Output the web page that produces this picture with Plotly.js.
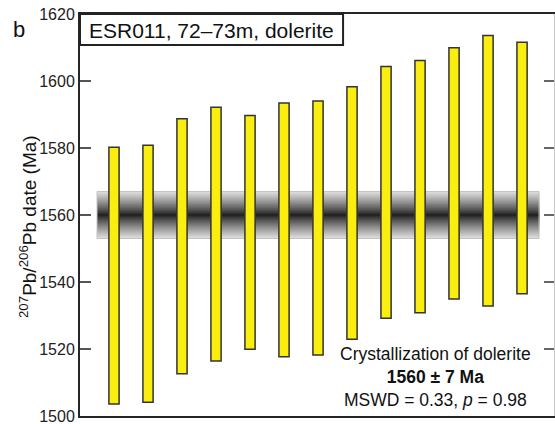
<!DOCTYPE html>
<html>
<head>
<meta charset="utf-8">
<script src="https://cdn.plot.ly/plotly-3.0.1.min.js"></script>
<style>
  html, body { margin: 0; padding: 0; background: #fff; }
  #chart { width: 555px; height: 424px; }
</style>
</head>
<body>
<div id="chart"></div>
<script>
// Individual zircon 207Pb/206Pb dates (Ma), 2-sigma upper and lower limits
const analysis = [1, 2, 3, 4, 5, 6, 7, 8, 9, 10, 11, 12, 13];
const dateUpper = [1580.2, 1580.8, 1588.7, 1592.2, 1589.7, 1593.4, 1594.0, 1598.3, 1604.3, 1606.1, 1609.9, 1613.6, 1611.6];
const dateLower = [1503.6, 1504.1, 1512.6, 1516.4, 1519.9, 1517.7, 1518.2, 1522.9, 1529.2, 1530.8, 1534.9, 1532.8, 1536.5];

// Weighted mean result
const meanAge = 1560;
const meanErr = 7;
const mswd = 0.33;
const pValue = 0.98;

const yTicks = [1500, 1520, 1540, 1560, 1580, 1600, 1620];
const sampleLabel = 'ESR011, 72–73m, dolerite';

const font = 'Liberation Sans, Arial, Helvetica, sans-serif';

// Weighted-mean band: nested rectangles, each narrower and darker, so the grey
// fades smoothly from the ±err limits to the mean without seams
const bandShapes = [];
const steps = 60;
const bandX0 = 0.5, bandX1 = analysis.length + 0.5;
for (let i = 0; i < steps; i++) {
  const half = meanErr * (1 - i / steps);
  const t = half / meanErr;
  const g = Math.round(28 + (224 - 28) * Math.pow(t, 0.85));
  bandShapes.push({
    type: 'rect', xref: 'x', yref: 'y', layer: 'below',
    x0: bandX0, x1: bandX1, y0: meanAge - half, y1: meanAge + half,
    fillcolor: `rgb(${g},${g},${g})`, line: { width: 0 }
  });
}
bandShapes.push({
  type: 'rect', xref: 'x', yref: 'y', layer: 'below',
  x0: bandX0, x1: bandX1, y0: meanAge - meanErr, y1: meanAge + meanErr,
  fillcolor: 'rgba(0,0,0,0)', line: { color: '#c2c2c2', width: 1 }
});

// Sample label box in the top-left corner
const labelBox = {
  type: 'rect', xref: 'paper', yref: 'paper', layer: 'above',
  x0: 0, x1: 0.555, y0: 0.923, y1: 1,
  fillcolor: '#ffffff', line: { color: '#222222', width: 2 }
};

const bars = {
  type: 'bar',
  x: analysis,
  base: dateLower,
  y: dateUpper.map((u, i) => u - dateLower[i]),
  width: 0.3,
  marker: { color: '#FAEE10', line: { color: '#333333', width: 1.5 } },
  hoverinfo: 'skip',
  showlegend: false
};

// invisible trace to carry the mirrored right-hand axis
const rightAxisCarrier = {
  type: 'scatter', x: [analysis[0]], y: [meanAge], yaxis: 'y2',
  mode: 'markers', marker: { opacity: 0 }, hoverinfo: 'skip', showlegend: false
};

const yRange = [1500, 1620];

const layout = {
  width: 555, height: 424,
  margin: { l: 80, r: 1, t: 14, b: 8 },
  paper_bgcolor: '#ffffff', plot_bgcolor: '#ffffff',
  font: { family: font, color: '#222222' },
  showlegend: false,
  bargap: 0,
  xaxis: {
    range: [0, 13.94], showgrid: false, zeroline: false,
    showticklabels: false, ticks: '',
    showline: true, linecolor: '#262626', linewidth: 2, mirror: true
  },
  yaxis: {
    range: yRange, showgrid: false, zeroline: false,
    tickvals: yTicks, ticktext: yTicks.map(String),
    ticks: 'inside', ticklen: 11, tickwidth: 1.5, tickcolor: '#555555',
    tickfont: { size: 16, family: font, color: '#222222' },
    ticklabeloverflow: 'allow',
    showline: true, linecolor: '#262626', linewidth: 2
  },
  yaxis2: {
    range: yRange, overlaying: 'y', side: 'right', showgrid: false, zeroline: false,
    tickvals: yTicks, showticklabels: false,
    ticks: 'inside', ticklen: 10, tickwidth: 1.5, tickcolor: '#666666',
    showline: true, linecolor: '#c8c8c8', linewidth: 1
  },
  shapes: bandShapes.concat([labelBox]),
  annotations: [
    {
      text: sampleLabel, xref: 'paper', yref: 'paper',
      x: 0.2775, y: 0.958, xanchor: 'center', yanchor: 'middle',
      showarrow: false, font: { size: 21, family: font, color: '#111111' }
    },
    {
      text: 'b', xref: 'paper', yref: 'paper',
      x: 0, xshift: -61, y: 0.962, xanchor: 'center', yanchor: 'middle',
      showarrow: false, font: { size: 22, family: font, color: '#111111' }
    },
    {
      text: '<sup>207</sup>Pb/<sup>206</sup>Pb date (Ma)', xref: 'paper', yref: 'paper',
      x: 0, xshift: -52, y: 0.47, xanchor: 'center', yanchor: 'middle',
      textangle: -90, showarrow: false, font: { size: 19, family: font, color: '#111111' }
    },
    {
      text: 'Crystallization of dolerite<br><b>' + meanAge + ' ± ' + meanErr + ' Ma</b><br>MSWD = ' +
            mswd.toFixed(2) + ', <i>p</i> = ' + pValue.toFixed(2),
      xref: 'paper', yref: 'paper',
      x: 0.749, y: 0.097, xanchor: 'center', yanchor: 'middle', align: 'center',
      showarrow: false, font: { size: 17.5, family: font, color: '#111111' }
    }
  ]
};

Plotly.newPlot('chart', [bars, rightAxisCarrier], layout, { staticPlot: true, displayModeBar: false });
</script>
</body>
</html>
